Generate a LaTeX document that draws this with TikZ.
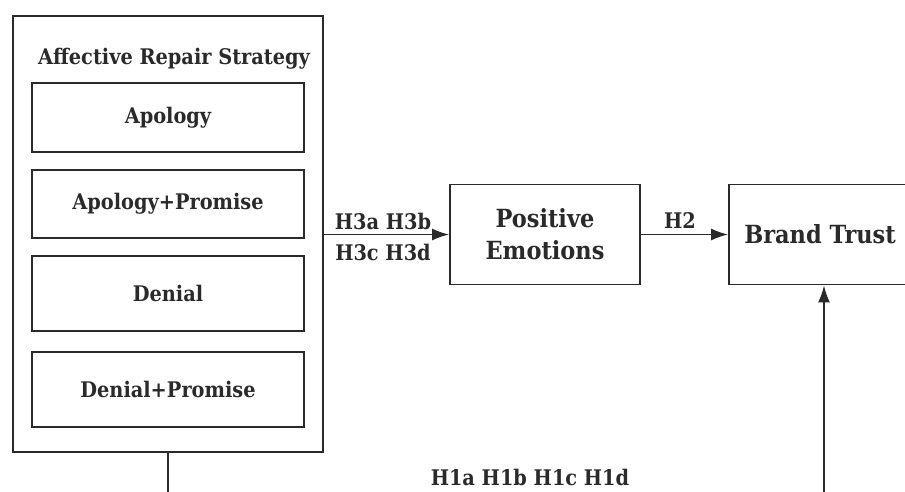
\documentclass[tikz,border=0pt]{standalone}
\usepackage{fontspec}
\setmainfont{DejaVu Serif Condensed}
\usetikzlibrary{arrows.meta}
\definecolor{ink}{HTML}{2A2A2A}
\begin{document}
\begin{tikzpicture}[x=1pt,y=-1pt,
  box/.style={draw=ink,line width=1.9pt,inner sep=0pt,align=center,text=ink,
    font=\fontsize{21.5}{26}\selectfont\bfseries},
  bigbox/.style={box,font=\fontsize{25}{30}\selectfont\bfseries},
  lab/.style={text=ink,inner sep=0pt,font=\fontsize{21.5}{26}\selectfont\bfseries},
  conn/.style={draw=ink,line width=1.6pt,-{Latex[length=17pt,width=12pt]}},
  plain/.style={draw=ink,line width=1.4pt}]
\useasboundingbox (0,0) rectangle (905,491);
\fill[white] (0,0) rectangle (905,491);
\clip (0,0) rectangle (905,491);
% outer group
\node[box,minimum width=310pt,minimum height=436pt] (outer) at (168,234) {};
\node[lab] (title) at (174,59) {Affective Repair Strategy};
\node[box,minimum width=272pt,minimum height=69pt] (apo) at (168,117.5) {Apology};
\node[box,minimum width=272pt,minimum height=68pt] (apop) at (168,204) {Apology+Promise};
\node[box,minimum width=272pt,minimum height=75pt] (den) at (168,293.5) {Denial};
\node[box,minimum width=272pt,minimum height=75pt] (denp) at (168,389.5) {Denial+Promise};
% right boxes
\node[bigbox,minimum width=190pt,minimum height=100pt] (pe) at (545,234.5) {Positive\\[2pt]Emotions};
\node[bigbox,minimum width=182pt,minimum height=100pt] (bt) at (820,234.5) {Brand Trust};
% connectors
\draw[conn] (outer.east |- pe.west) -- (pe.west);
\node[lab] (h3top) at (383,221) {H3a H3b};
\node[lab] (h3bot) at (383,252) {H3c H3d};
\draw[conn] (pe.east) -- (bt.west |- pe.east);
\node[lab] (h2) at (680,221) {H2};
\coordinate (c1) at (168,520);
\coordinate (c2) at (824,520);
\draw[plain] (outer.south) -- (c1) -- (c2);
\draw[conn] (c2) -- (c2 |- bt.south);
\node[lab] (h1) at (530,477) {H1a H1b H1c H1d};
\end{tikzpicture}
\end{document}
